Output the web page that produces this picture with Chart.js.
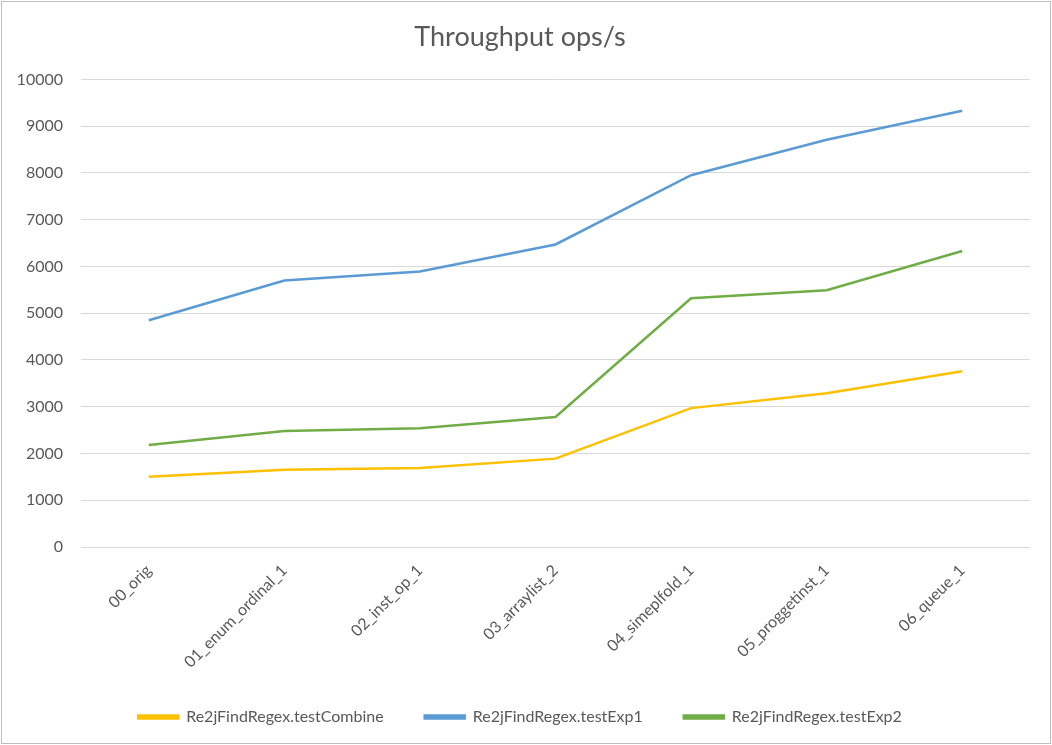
<!DOCTYPE html>
<html>
<head>
<meta charset="utf-8">
<script src="https://cdn.jsdelivr.net/npm/chart.js@4"></script>
<style>
  html, body { margin: 0; padding: 0; background: #fff; }
  #wrap { width: 1052px; height: 745px; position: relative; }
</style>
</head>
<body>
<div id="wrap"><canvas id="chart"></canvas></div>
<script>
const categories = ['00_orig', '01_enum_ordinal_1', '02_inst_op_1', '03_arraylist_2', '04_simeplfold_1', '05_proggetinst_1', '06_queue_1'];
const testCombine = [1500, 1650, 1690, 1890, 2970, 3290, 3760];
const testExp1 = [4850, 5700, 5890, 6470, 7950, 8710, 9330];
const testExp2 = [2180, 2480, 2540, 2780, 5320, 5490, 6330];

const FONT = 'Lato, "Open Sans", sans-serif';

// Light grey frame around the whole chart, like the office export
const framePlugin = {
  id: 'frame',
  afterDraw(chart) {
    const { ctx, width, height } = chart;
    ctx.save();
    ctx.strokeStyle = '#BFBFBF';
    ctx.lineWidth = 1;
    ctx.strokeRect(1.5, 1.5, width - 3, height - 3);
    ctx.restore();
  }
};

function line(label, data, color) {
  return {
    label: label,
    data: data,
    borderColor: color,
    backgroundColor: color,
    borderWidth: 2.5,
    pointRadius: 0,
    tension: 0,
    fill: false
  };
}

new Chart(document.getElementById('chart'), {
  type: 'line',
  data: {
    labels: categories,
    datasets: [
      line('Re2jFindRegex.testCombine', testCombine, '#FFC000'),
      line('Re2jFindRegex.testExp1', testExp1, '#5B9BD5'),
      line('Re2jFindRegex.testExp2', testExp2, '#70AD47')
    ]
  },
  options: {
    responsive: true,
    maintainAspectRatio: false,
    animation: false,
    layout: { padding: { left: 10, right: 22, top: 21, bottom: 10 } },
    scales: {
      x: {
        offset: true,
        grid: { display: false },
        border: { display: false },
        ticks: {
          color: '#595959',
          font: { family: FONT, size: 16 },
          minRotation: 45,
          maxRotation: 45,
          padding: 6
        },
        afterFit(scale) { scale.height = 121; }
      },
      y: {
        min: 0,
        max: 10000,
        grid: { color: '#D9D9D9', lineWidth: 1, drawTicks: false },
        border: { display: false },
        ticks: {
          stepSize: 1000,
          color: '#595959',
          font: { family: FONT, size: 16 },
          padding: 18,
          callback: v => String(v)
        },
        afterFit(scale) { scale.width = 71; }
      }
    },
    plugins: {
      title: {
        display: true,
        text: 'Throughput ops/s',
        color: '#595959',
        font: { family: FONT, size: 27, weight: 'normal' },
        padding: { top: 0, bottom: 26 }
      },
      legend: {
        position: 'bottom',
        labels: {
          color: '#595959',
          font: { family: FONT, size: 16 },
          boxWidth: 40,
          boxHeight: 3,
          padding: 41
        }
      },
      tooltip: { enabled: false }
    }
  },
  plugins: [framePlugin]
});
</script>
</body>
</html>
